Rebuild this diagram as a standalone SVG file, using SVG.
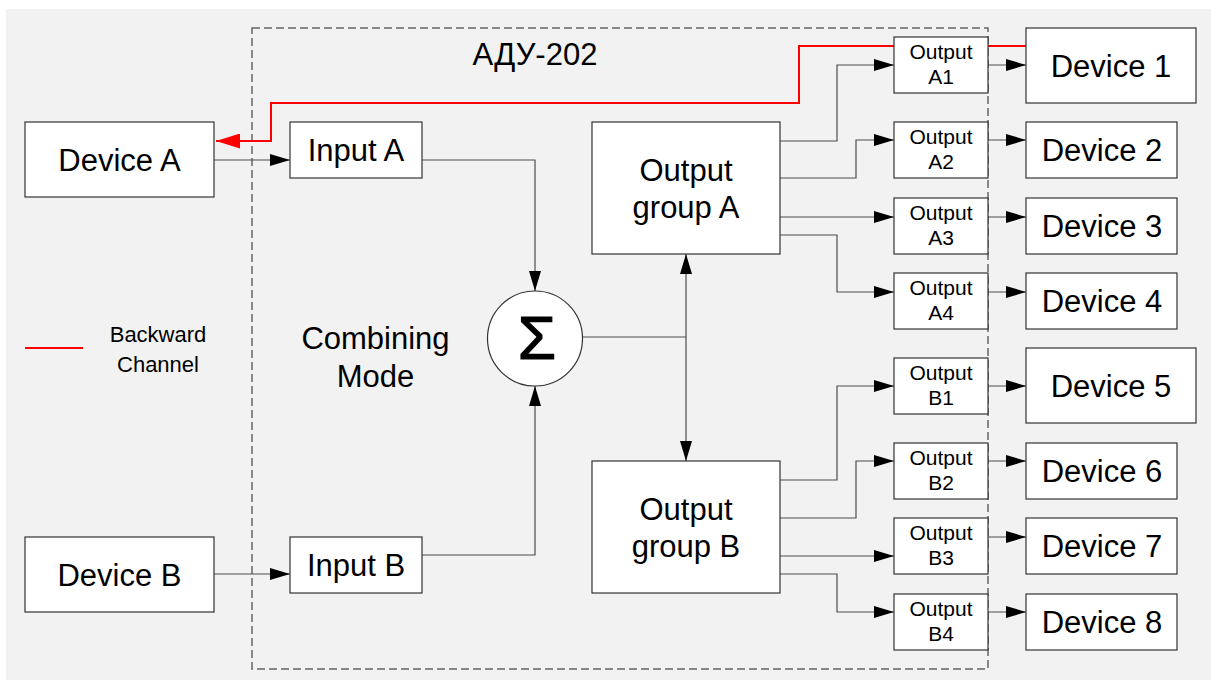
<svg xmlns="http://www.w3.org/2000/svg" width="1211" height="682" viewBox="0 0 1211 682">
<style>
.box{fill:#fff;stroke:#333;stroke-width:1.2}
.ln{fill:none;stroke:#4d4d4d;stroke-width:1.2}
.red{fill:none;stroke:#ff0000;stroke-width:2}
.t{font-family:"Liberation Sans",Arial,sans-serif;fill:#000;text-anchor:middle}
.big{font-size:31px}
.sm{font-size:21px}
.lg{font-size:22px}
</style>
<defs>
<marker id="ah" markerUnits="userSpaceOnUse" markerWidth="20" markerHeight="12" refX="20" refY="6" orient="auto-start-reverse" viewBox="0 0 20 12"><path d="M0,0 L20,6 L0,12 z" fill="#000"/></marker>
<marker id="ahr" markerUnits="userSpaceOnUse" markerWidth="24" markerHeight="15" refX="24" refY="7.5" orient="auto" viewBox="0 0 24 15"><path d="M0,0 L24,7.5 L0,15 z" fill="#ff0000"/></marker>
</defs>
<rect x="6" y="9" width="1205" height="671" fill="#f2f2f2"/>
<rect id="container" x="252" y="28" width="736" height="641" fill="none" stroke="#666" stroke-width="1.5" stroke-dasharray="8 4"/>
<text class="t big" x="535" y="65">АДУ-202</text>
<g id="legend">
<line x1="25" y1="348" x2="83" y2="348" stroke="#ff0000" stroke-width="2"/>
<text class="t lg" x="158" y="342">Backward</text>
<text class="t lg" x="158" y="372">Channel</text>
</g>
<text class="t big" x="375.5" y="349">Combining</text>
<text class="t big" x="375.5" y="387">Mode</text>
<g id="connectors">
<path class="red" d="M1026,46 H799 V103 H271 V141 H216" marker-end="url(#ahr)"/>
<path class="ln" d="M214,160 H290" marker-end="url(#ah)"/>
<path class="ln" d="M214,574 H290" marker-end="url(#ah)"/>
<path class="ln" d="M422,160 H535 V291" marker-end="url(#ah)"/>
<path class="ln" d="M422,555 H535 V386" marker-end="url(#ah)"/>
<path class="ln" d="M583,337 H686"/>
<path class="ln" d="M686,254 V461" marker-start="url(#ah)" marker-end="url(#ah)"/>
<path class="ln" d="M780,141 H837 V65 H894" marker-end="url(#ah)"/>
<path class="ln" d="M780,178 H856 V140 H894" marker-end="url(#ah)"/>
<path class="ln" d="M780,217 H894" marker-end="url(#ah)"/>
<path class="ln" d="M780,235 H837 V292 H894" marker-end="url(#ah)"/>
<path class="ln" d="M988,65 H1026" marker-end="url(#ah)"/>
<path class="ln" d="M988,140 H1026" marker-end="url(#ah)"/>
<path class="ln" d="M988,217 H1026" marker-end="url(#ah)"/>
<path class="ln" d="M988,292 H1026" marker-end="url(#ah)"/>
<path class="ln" d="M780,480 H837 V386 H894" marker-end="url(#ah)"/>
<path class="ln" d="M780,518 H856 V461 H894" marker-end="url(#ah)"/>
<path class="ln" d="M780,556 H894" marker-end="url(#ah)"/>
<path class="ln" d="M780,574 H837 V612 H894" marker-end="url(#ah)"/>
<path class="ln" d="M988,386 H1026" marker-end="url(#ah)"/>
<path class="ln" d="M988,461 H1026" marker-end="url(#ah)"/>
<path class="ln" d="M988,537 H1026" marker-end="url(#ah)"/>
<path class="ln" d="M988,612 H1026" marker-end="url(#ah)"/>
</g>
<g id="deviceA"><rect class="box" x="25" y="122" width="189" height="75"/><text class="t big" x="119.5" y="170.5">Device A</text></g>
<g id="deviceB"><rect class="box" x="25" y="537" width="189" height="75"/><text class="t big" x="119.5" y="585.5">Device B</text></g>
<g id="inputA"><rect class="box" x="290" y="122" width="132" height="56"/><text class="t big" x="356" y="161">Input A</text></g>
<g id="inputB"><rect class="box" x="290" y="537" width="132" height="56"/><text class="t big" x="356" y="576">Input B</text></g>
<g id="sum"><circle cx="535" cy="338.5" r="47.5" fill="#fff" stroke="#333" stroke-width="1.2"/><text class="t" x="537" y="359" style="font-size:62px" stroke="#000" stroke-width="1.2">Σ</text></g>
<g id="groupA"><rect class="box" x="592" y="122" width="188" height="132"/><text class="t big" x="686" y="181">Output</text><text class="t big" x="686" y="218">group A</text></g>
<g id="groupB"><rect class="box" x="592" y="461" width="188" height="132"/><text class="t big" x="686" y="520">Output</text><text class="t big" x="686" y="557">group B</text></g>
<g id="outA1"><rect class="box" x="894" y="37" width="94" height="56"/><text class="t sm" x="941" y="59">Output</text><text class="t sm" x="941" y="84">A1</text></g>
<g id="outA2"><rect class="box" x="894" y="122" width="94" height="56"/><text class="t sm" x="941" y="144">Output</text><text class="t sm" x="941" y="169">A2</text></g>
<g id="outA3"><rect class="box" x="894" y="198" width="94" height="56"/><text class="t sm" x="941" y="220">Output</text><text class="t sm" x="941" y="245">A3</text></g>
<g id="outA4"><rect class="box" x="894" y="273" width="94" height="56"/><text class="t sm" x="941" y="295">Output</text><text class="t sm" x="941" y="320">A4</text></g>
<g id="outB1"><rect class="box" x="894" y="358" width="94" height="56"/><text class="t sm" x="941" y="380">Output</text><text class="t sm" x="941" y="405">B1</text></g>
<g id="outB2"><rect class="box" x="894" y="443" width="94" height="56"/><text class="t sm" x="941" y="465">Output</text><text class="t sm" x="941" y="490">B2</text></g>
<g id="outB3"><rect class="box" x="894" y="518" width="94" height="56"/><text class="t sm" x="941" y="540">Output</text><text class="t sm" x="941" y="565">B3</text></g>
<g id="outB4"><rect class="box" x="894" y="594" width="94" height="56"/><text class="t sm" x="941" y="616">Output</text><text class="t sm" x="941" y="641">B4</text></g>
<g id="device1"><rect class="box" x="1026" y="28" width="170" height="75"/><text class="t big" x="1111" y="76.5">Device 1</text></g>
<g id="device2"><rect class="box" x="1026" y="122" width="151" height="56"/><text class="t big" x="1102" y="161">Device 2</text></g>
<g id="device3"><rect class="box" x="1026" y="198" width="151" height="56"/><text class="t big" x="1102" y="237">Device 3</text></g>
<g id="device4"><rect class="box" x="1026" y="273" width="151" height="56"/><text class="t big" x="1102" y="312">Device 4</text></g>
<g id="device5"><rect class="box" x="1026" y="348" width="170" height="75"/><text class="t big" x="1111" y="396.5">Device 5</text></g>
<g id="device6"><rect class="box" x="1026" y="443" width="151" height="56"/><text class="t big" x="1102" y="482">Device 6</text></g>
<g id="device7"><rect class="box" x="1026" y="518" width="151" height="56"/><text class="t big" x="1102" y="557">Device 7</text></g>
<g id="device8"><rect class="box" x="1026" y="594" width="151" height="56"/><text class="t big" x="1102" y="633">Device 8</text></g>
</svg>
